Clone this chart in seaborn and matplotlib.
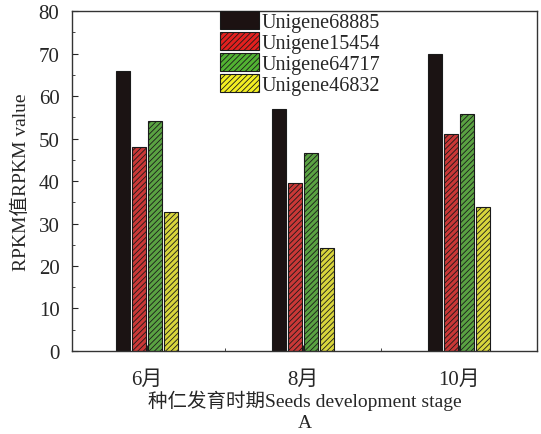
import matplotlib
matplotlib.use("Agg")
import matplotlib.pyplot as plt
import seaborn as sns
import pandas as pd
from matplotlib.ticker import MultipleLocator, FixedLocator
from matplotlib.patches import Patch

stages = ["6月", "8月", "10月"]
genes = ["Unigene68885", "Unigene15454", "Unigene64717", "Unigene46832"]
v68885 = [66.0, 57.0, 70.0]
v15454 = [48.0, 39.5, 51.0]
v64717 = [54.2, 46.5, 55.8]
v46832 = [32.6, 24.2, 33.8]

colors = ["#1c1212", "#e3201e", "#52b232", "#f2ee22"]
hatches = ["", "//////", "//////", "//////"]

rows = []
for g, vals in zip(genes, [v68885, v15454, v64717, v46832]):
    for s, v in zip(stages, vals):
        rows.append({"stage": s, "gene": g, "value": v})
df = pd.DataFrame(rows)

sns.set_style("ticks")
plt.rcParams["font.family"] = ["Liberation Serif", "Noto Sans CJK SC"]
plt.rcParams["font.size"] = 14
plt.rcParams["hatch.linewidth"] = 0.6

fig = plt.figure(figsize=(5.41, 4.35), dpi=100)
ax = fig.add_axes([0.133, 0.191, 0.860, 0.781])

sns.barplot(data=df, x="stage", y="value", hue="gene", order=stages,
            hue_order=genes, palette=colors, width=0.41, gap=0.12,
            edgecolor="#1a1a1a", linewidth=0.8, legend=False, ax=ax)

for cont, h in zip(ax.containers, hatches):
    for p in cont:
        if h:
            p.set_hatch(h)
        p.set_edgecolor("#1a1a1a")

ax.set_ylim(0, 80)
ax.set_xlim(-0.48, 2.5)
ax.yaxis.set_major_locator(MultipleLocator(10))
ax.yaxis.set_minor_locator(MultipleLocator(5))
ax.xaxis.set_minor_locator(FixedLocator([0.5, 1.5]))
ax.tick_params(axis="both", which="both", direction="in", labelsize=15)
ax.tick_params(axis="both", which="major", length=4)
ax.tick_params(axis="both", which="minor", length=2.5)
ax.tick_params(axis="x", pad=14)
ax.tick_params(axis="y", pad=9)
for sp in ax.spines.values():
    sp.set_visible(True)
    sp.set_linewidth(1.0)
    sp.set_color("#333333")

ax.set_ylabel("RPKM值RPKM value", fontsize=14, labelpad=6)
ax.set_xlabel("种仁发育时期Seeds development stage", fontsize=14, labelpad=0)
fig.text(0.563, 0.006, "A", fontsize=14, ha="center", va="bottom")

handles = [Patch(facecolor=c, edgecolor="#1a1a1a", hatch=h, linewidth=0.8)
           for c, h in zip(colors, hatches)]
ax.legend(handles, genes, loc="upper left", bbox_to_anchor=(0.293, 1.035),
          frameon=False, fontsize=14.5, handlelength=1.9, handleheight=0.95,
          labelspacing=0.02, handletextpad=0.15, borderpad=0.1)

fig.savefig("out.png", dpi=100)
